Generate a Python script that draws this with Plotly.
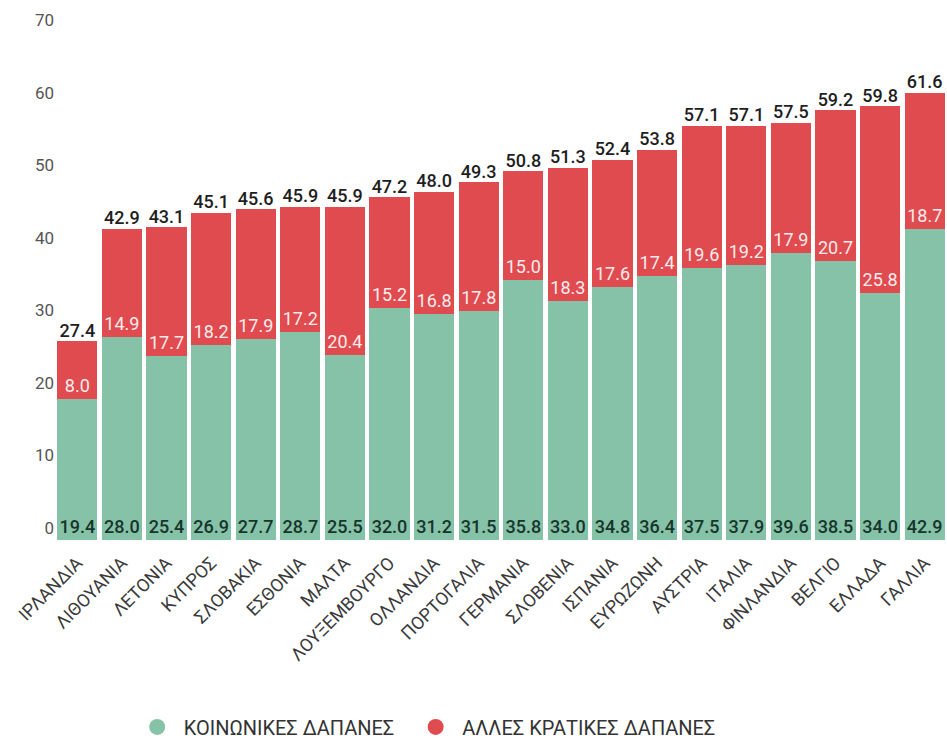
import plotly.graph_objects as go

countries = ["ΙΡΛΑΝΔΙΑ", "ΛΙΘΟΥΑΝΙΑ", "ΛΕΤΟΝΙΑ", "ΚΥΠΡΟΣ", "ΣΛΟΒΑΚΙΑ", "ΕΣΘΟΝΙΑ",
             "ΜΑΛΤΑ", "ΛΟΥΞΕΜΒΟΥΡΓΟ", "ΟΛΛΑΝΔΙΑ", "ΠΟΡΤΟΓΑΛΙΑ", "ΓΕΡΜΑΝΙΑ",
             "ΣΛΟΒΕΝΙΑ", "ΙΣΠΑΝΙΑ", "ΕΥΡΩΖΩΝΗ", "ΑΥΣΤΡΙΑ", "ΙΤΑΛΙΑ", "ΦΙΝΛΑΝΔΙΑ",
             "ΒΕΛΓΙΟ", "ΕΛΛΑΔΑ", "ΓΑΛΛΙΑ"]
social = [19.4, 28.0, 25.4, 26.9, 27.7, 28.7, 25.5, 32.0, 31.2, 31.5, 35.8,
          33.0, 34.8, 36.4, 37.5, 37.9, 39.6, 38.5, 34.0, 42.9]
other = [8.0, 14.9, 17.7, 18.2, 17.9, 17.2, 20.4, 15.2, 16.8, 17.8, 15.0,
         18.3, 17.6, 17.4, 19.6, 19.2, 17.9, 20.7, 25.8, 18.7]
totals = [27.4, 42.9, 43.1, 45.1, 45.6, 45.9, 45.9, 47.2, 48.0, 49.3, 50.8,
          51.3, 52.4, 53.8, 57.1, 57.1, 57.5, 59.2, 59.8, 61.6]
y_ticks = [0, 10, 20, 30, 40, 50, 60, 70]

GREEN = "#86C2A7"
RED = "#E04B50"
FONT = "Roboto"

fig = go.Figure()

fig.add_trace(go.Bar(
    x=countries, y=social, name="ΚΟΙΝΩΝΙΚΕΣ ΔΑΠΑΝΕΣ",
    marker=dict(color=GREEN, line=dict(width=0)),
    text=[f"{v:.1f}" for v in social], textposition="inside", textangle=0,
    insidetextanchor="start", constraintext="none",
    textfont=dict(family=FONT, size=18, color="#17352B", weight=500),
    showlegend=False, hoverinfo="skip",
))
fig.add_trace(go.Bar(
    x=countries, y=other, name="ΑΛΛΕΣ ΚΡΑΤΙΚΕΣ ΔΑΠΑΝΕΣ",
    marker=dict(color=RED, line=dict(width=0)),
    text=[f"{v:.1f}" for v in other], textposition="inside", textangle=0,
    insidetextanchor="start", constraintext="none",
    textfont=dict(family=FONT, size=18, color="#FCEBEC"),
    showlegend=False, hoverinfo="skip",
))
# totals above each stack
fig.add_trace(go.Scatter(
    x=countries, y=totals, mode="text",
    text=[f"{v:.1f}" for v in totals], textposition="top center",
    textfont=dict(family=FONT, size=18, color="#1E1E1E", weight=500),
    showlegend=False, hoverinfo="skip",
))
# round legend markers
legend_names = ["ΚΟΙΝΩΝΙΚΕΣ ΔΑΠΑΝΕΣ\u00a0\u00a0", "ΑΛΛΕΣ ΚΡΑΤΙΚΕΣ ΔΑΠΑΝΕΣ"]
for nm, col in zip(legend_names, [GREEN, RED]):
    fig.add_trace(go.Scatter(
        x=[countries[0]], y=[None], mode="markers", name=nm,
        marker=dict(color=col, size=22, symbol="circle"),
    ))

fig.update_layout(
    width=947, height=742,
    barmode="stack", bargap=0.1,
    plot_bgcolor="white", paper_bgcolor="white",
    margin=dict(l=55, r=0, t=32, b=202, autoexpand=False),
    font=dict(family=FONT, color="#444"),
    showlegend=True,
    legend=dict(
        orientation="h", traceorder="normal",
        xref="container", yref="paper",
        x=0.138, xanchor="left", y=-0.368, yanchor="middle",
        font=dict(family=FONT, size=20, color="#333"),
        itemsizing="trace", itemwidth=43,
    ),
    xaxis=dict(
        range=[-0.5, 19.5],
        tickangle=-45, showgrid=False, showline=False, ticks="",
        automargin=False, ticklabelstandoff=8,
        tickfont=dict(family=FONT, size=18, color="#3A3A3A"),
    ),
    yaxis=dict(
        range=[0, 70], tickvals=y_ticks, showgrid=False, zeroline=False,
        showline=False, ticks="", ticklabelposition="outside top",
        automargin=False,
        tickfont=dict(family=FONT, size=17, color="#555"),
    ),
)

fig.write_html("out.html")
